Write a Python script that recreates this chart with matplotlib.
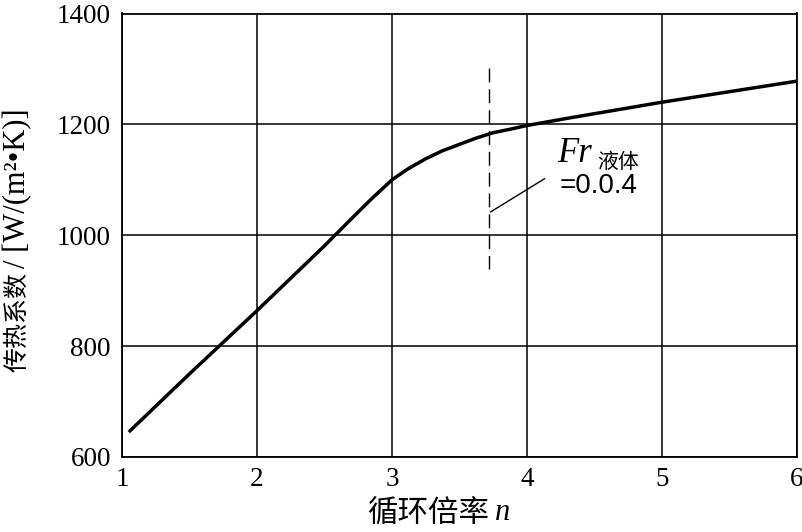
import numpy as np
import matplotlib.pyplot as plt

plt.rcParams['font.family'] = ['Liberation Serif', 'Noto Sans CJK SC', 'DejaVu Sans']

# courbe coefficient de transfert / taux de circulation
n = [1.05, 1.5, 2.0, 2.5, 2.7, 2.85, 3.0, 3.12, 3.25, 3.37, 3.5, 3.62, 3.75,
     3.87, 4.0, 4.3, 5.0, 5.5, 6.0]
k = [645, 750, 864, 981, 1030, 1066, 1100, 1120, 1138, 1152, 1164, 1175, 1185,
     1191, 1198, 1211, 1240, 1259, 1278]

# ligne pointillee Fr
n_fr = [3.72, 3.72]
k_fr = [1302, 940]

xticks = [1, 2, 3, 4, 5, 6]
yticks = [600, 800, 1000, 1200, 1400]

fig = plt.figure(figsize=(8.02, 5.32), dpi=100)
ax = fig.add_axes([122/802, 1 - 457/532, (797-122)/802, (457-13.5)/532])

ax.plot(n, k, color='black', lw=2.5, solid_capstyle='butt', solid_joinstyle='round')
ax.plot(n_fr, k_fr, color='black', lw=1.0, dashes=(10, 5))
# trait de rappel vers l'etiquette
ax.plot([3.73, 4.13], [1042, 1102], color='black', lw=1.0)

ax.set_xlim(1, 6)
ax.set_ylim(600, 1400)
ax.set_xticks(xticks)
ax.set_yticks(yticks)
ax.grid(True, color='black', lw=1.1)
ax.tick_params(length=0, labelsize=19.5)
ax.tick_params(axis='x', pad=7)
ax.tick_params(axis='y', pad=8)
for s in ax.spines.values():
    s.set_linewidth(1.3)

# label y en deux morceaux (caracteres plus petits que le latin)
ax.text(-0.155, 0.304, '传热系数', transform=ax.transAxes, fontsize=18, rotation=90,
        ha='center', va='center', family=['Noto Sans CJK SC'])
ax.text(-0.155, 0.605, '/ [W/(m²•K)]', transform=ax.transAxes, fontsize=22, rotation=90,
        ha='center', va='center', family=['Liberation Serif'])

# label x: caracteres + n italique
ax.text(0.454, -0.13, '循环倍率', transform=ax.transAxes, fontsize=22,
        ha='center', va='center', family=['Noto Sans CJK SC'])
ax.text(0.552, -0.125, 'n', transform=ax.transAxes, fontsize=22,
        ha='left', va='center', style='italic', family=['Liberation Serif'])

ax.text(4.22, 1132, 'Fr', fontsize=25, style='italic', family=['Liberation Serif'],
        ha='left', va='baseline')
ax.text(4.52, 1133, '液体', fontsize=15, family=['Noto Sans CJK SC'],
        ha='left', va='center')
ax.text(4.24, 1089, '=0.0.4', fontsize=20, family=['Liberation Sans'],
        ha='left', va='center')

fig.savefig('out.png', dpi=100)
